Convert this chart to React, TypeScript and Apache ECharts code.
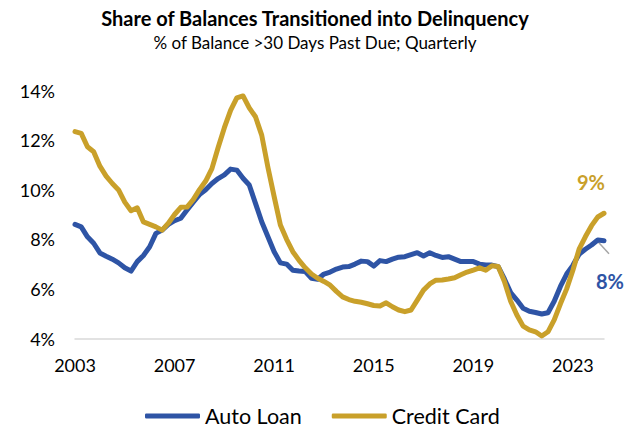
import React, { useEffect, useRef } from "react";
import * as echarts from "echarts";

const FONT = "Lato, 'Open Sans', sans-serif";
const BLUE = "#2E54A5";
const GOLD = "#C9A02A";

const START_YEAR = 2003;
const END_YEAR = 2024;
const END_QUARTER = 2;

// Quarterly categories 2003Q1 .. 2024Q2
const quarters: string[] = [];
for (let y = START_YEAR; y <= END_YEAR; y++) {
  for (let q = 1; q <= 4; q++) {
    if (y === END_YEAR && q > END_QUARTER) break;
    quarters.push(`${y}Q${q}`);
  }
}

const yTicks = { min: 4, max: 14, interval: 2 };

const autoLoan = [
  8.6, 8.5, 8.1, 7.84, 7.45, 7.32, 7.2, 7.05, 6.85, 6.72,
  7.1, 7.35, 7.7, 8.24, 8.37, 8.6, 8.75, 8.85, 9.18, 9.5,
  9.8, 10.0, 10.25, 10.45, 10.6, 10.83, 10.79, 10.46, 10.19, 9.45,
  8.71, 8.1, 7.5, 7.05, 7.0, 6.75, 6.72, 6.7, 6.43, 6.39,
  6.6, 6.68, 6.8, 6.88, 6.9, 7.0, 7.12, 7.1, 6.92, 7.14,
  7.1, 7.2, 7.28, 7.3, 7.38, 7.46, 7.33, 7.46, 7.35, 7.27,
  7.3, 7.2, 7.1, 7.1, 7.1, 7.0, 6.96, 6.96, 6.9, 6.4,
  5.85, 5.55, 5.22, 5.1, 5.05, 4.99, 5.04, 5.5, 6.1, 6.6,
  6.95, 7.4, 7.6, 7.77, 7.97, 7.94,
];

const creditCard = [
  12.34, 12.27, 11.73, 11.53, 10.95, 10.55, 10.25, 9.99, 9.5, 9.15,
  9.27, 8.7, 8.6, 8.5, 8.37, 8.65, 9.0, 9.29, 9.3, 9.6,
  10.0, 10.35, 10.85, 11.7, 12.5, 13.2, 13.7, 13.78, 13.3, 12.94,
  12.2, 10.9, 9.72, 8.58, 8.0, 7.5, 7.15, 6.85, 6.6, 6.43,
  6.3, 6.15, 5.9, 5.68, 5.57, 5.5, 5.46, 5.4, 5.33, 5.31,
  5.44, 5.28, 5.15, 5.08, 5.15, 5.55, 5.95, 6.2, 6.35, 6.36,
  6.4, 6.45, 6.57, 6.68, 6.76, 6.85, 6.75, 6.93, 6.9, 6.3,
  5.5, 4.95, 4.5, 4.35, 4.27, 4.1, 4.27, 4.75, 5.4, 6.0,
  6.75, 7.6, 8.1, 8.55, 8.9, 9.05,
];

const endLabels = { auto: "8%", card: "9%" };

function withEndLabel(values: number[], text: string, color: string) {
  return values.map((v, i) =>
    i === values.length - 1
      ? {
          value: v,
          label: {
            show: true,
            formatter: text,
            color,
            fontFamily: FONT,
            fontWeight: "bold",
            fontSize: 20,
            position: "top",
          },
        }
      : v
  );
}

export default function App() {
  const ref = useRef<HTMLDivElement>(null);
  useEffect(() => {
    if (!ref.current) return;
    const chart = echarts.init(ref.current, undefined, { renderer: "svg" });
    const lastIdx = quarters.length - 1;
    chart.setOption({
      animation: false,
      backgroundColor: "#fff",
      title: {
        text: "Share of Balances Transitioned into Delinquency",
        subtext: "% of Balance >30 Days Past Due; Quarterly",
        left: "center",
        top: 3,
        itemGap: 6,
        textStyle: { fontFamily: FONT, fontWeight: "bold", fontSize: 20, color: "#000" },
        subtextStyle: { fontFamily: FONT, fontSize: 17, color: "#000" },
      },
      grid: { left: 75, right: 26, top: 90.5, bottom: 89.5, containLabel: false },
      xAxis: {
        type: "category",
        data: quarters,
        boundaryGap: false,
        axisLine: { lineStyle: { color: "#D9D9D9", width: 1.5 } },
        axisTick: { show: false },
        axisLabel: {
          interval: 15,
          formatter: (v: string) => v.slice(0, 4),
          fontFamily: FONT,
          fontSize: 18,
          color: "#000",
          margin: 17,
        },
        splitLine: { show: false },
      },
      yAxis: {
        type: "value",
        min: yTicks.min,
        max: yTicks.max,
        interval: yTicks.interval,
        axisLine: { show: false },
        axisTick: { show: false },
        splitLine: { show: false },
        axisLabel: {
          formatter: (v: number) => `${v}%`,
          fontFamily: FONT,
          fontSize: 18,
          color: "#000",
          margin: 20,
        },
      },
      legend: {
        top: 400,
        left: 140,
        itemWidth: 55,
        itemHeight: 5,
        itemGap: 30,
        icon: "roundRect",
        textStyle: { fontFamily: FONT, fontSize: 21.5, color: "#000" },
        data: ["Auto Loan", "Credit Card"],
      },
      series: [
        {
          name: "Auto Loan",
          type: "line",
          data: withEndLabel(autoLoan, endLabels.auto, BLUE),
          color: BLUE,
          symbol: "circle",
          symbolSize: 0,
          showSymbol: true,
          showAllSymbol: true,
          lineStyle: { width: 5, color: BLUE, cap: "round", join: "round" },
          labelLayout: (p: any) => (p.dataIndex === lastIdx ? { dx: 6, dy: 55 } : {}),
          z: 2,
        },
        {
          name: "Credit Card",
          type: "line",
          data: withEndLabel(creditCard, endLabels.card, GOLD),
          color: GOLD,
          symbol: "circle",
          symbolSize: 0,
          showSymbol: true,
          showAllSymbol: true,
          lineStyle: { width: 5, color: GOLD, cap: "round", join: "round" },
          labelLayout: (p: any) => (p.dataIndex === lastIdx ? { dx: -13, dy: -16 } : {}),
          z: 3,
        },
      ],
    });
    // leader line for the Auto Loan end label, anchored to the last data point via the chart's scales
    const p = chart.convertToPixel({ seriesIndex: 0 }, [lastIdx, autoLoan[autoLoan.length - 1]]) as number[];
    if (p && isFinite(p[0]) && isFinite(p[1])) {
      chart.setOption({
        graphic: [
          {
            type: "line",
            shape: { x1: p[0] - 6, y1: p[1] + 1, x2: p[0] + 5, y2: p[1] + 13 },
            style: { stroke: "#A6A6A6", lineWidth: 1.5 },
            z: 1,
          },
        ],
      });
    }
    return () => chart.dispose();
  }, []);
  return <div ref={ref} style={{ width: 630, height: 428, position: "absolute", left: 0, top: 0 }} />;
}
